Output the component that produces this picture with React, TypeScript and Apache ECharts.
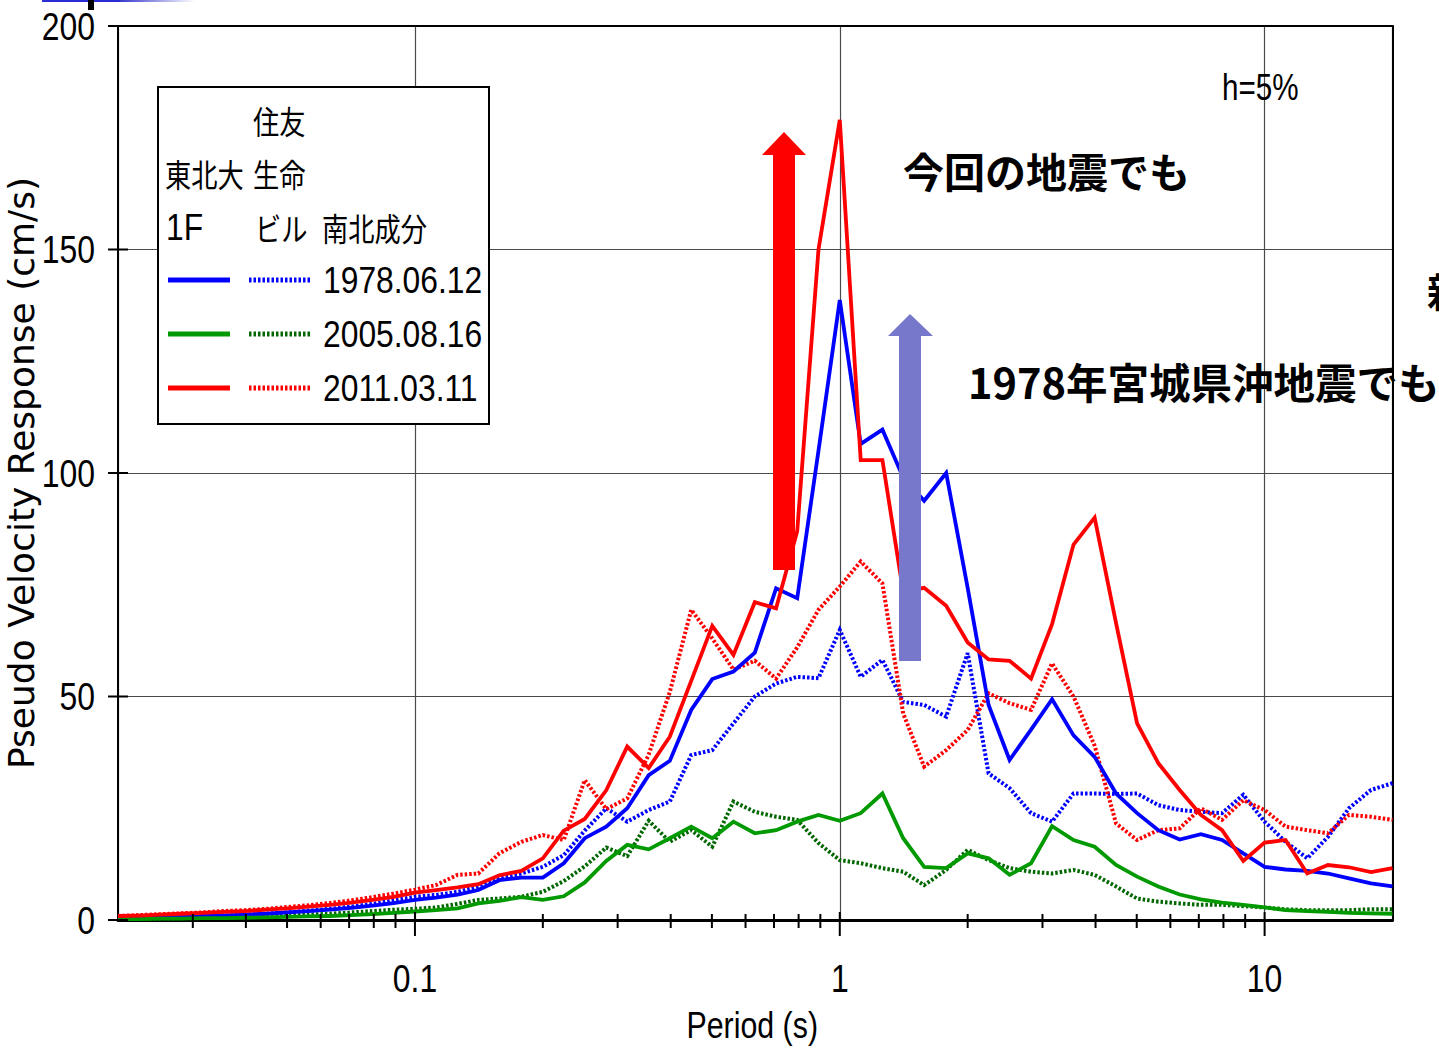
import React, { useEffect, useRef } from "react";
import * as echarts from "echarts";

// Period axis samples (s)
const periods = [
  0.02, 0.0224, 0.0251, 0.0282, 0.0316, 0.0355, 0.0398, 0.0447, 0.0501, 0.0562,
  0.0631, 0.0708, 0.0794, 0.0891, 0.1, 0.112, 0.126, 0.141, 0.158, 0.178,
  0.2, 0.224, 0.251, 0.282, 0.316, 0.355, 0.398, 0.447, 0.501, 0.562,
  0.631, 0.708, 0.794, 0.891, 1.0, 1.12, 1.26, 1.41, 1.58, 1.78,
  2.0, 2.24, 2.51, 2.82, 3.16, 3.55, 3.98, 4.47, 5.01, 5.62,
  6.31, 7.08, 7.94, 8.91, 10.0, 11.2, 12.6, 14.1, 15.8, 17.8, 20.0,
];

// 東北大 1F (solid)
const blue1F = [
  0.5, 0.6, 0.7, 0.8, 0.9, 1.0, 1.2, 1.4, 1.7, 2.0, 2.3, 2.7, 3.2, 3.8, 4.5,
  5.0, 5.7, 6.7, 8.9, 9.5, 9.5, 12.7, 18.3, 20.9, 25.0, 32.4,
  35.6, 47.0, 53.9, 55.6, 59.8, 74.2, 72.0, 105.0, 138.7,
  106.5, 109.7, 99.0, 93.8, 100.0, 74.3, 48.1, 35.8, 42.6, 49.4, 41.3,
  36.5, 28.3, 23.9, 20.1, 18.0, 19.2, 17.9, 14.9, 11.9, 11.3, 11.0, 10.4, 9.3, 8.2, 7.5,
];
const green1F = [
  0.2, 0.2, 0.3, 0.3, 0.4, 0.4, 0.5, 0.6, 0.7, 0.8, 0.9, 1.1, 1.3, 1.6, 1.9,
  2.2, 2.6, 3.7, 4.3, 5.1, 4.5, 5.3, 8.4, 13.2, 16.8, 15.8,
  18.3, 20.9, 18.3, 22.0, 19.4, 20.1, 22.0, 23.5, 22.2,
  23.9, 28.3, 18.3, 11.9, 11.6, 14.9, 13.8, 10.1, 12.7, 21.0, 17.9,
  16.4, 12.3, 9.7, 7.5, 5.7, 4.6, 3.9, 3.4, 2.8, 2.2, 2.0, 1.8, 1.6, 1.5, 1.4,
];
const red1F = [
  0.9, 1.0, 1.2, 1.4, 1.6, 1.8, 2.0, 2.3, 2.6, 3.0, 3.4, 3.9, 4.5, 5.2, 6.1,
  6.7, 7.3, 8.0, 10.0, 11.0, 13.8, 20.0, 22.6, 29.0, 38.8, 34.0,
  41.0, 53.5, 65.8, 59.3, 71.1, 69.7, 87.0, 150.0, 179.0,
  102.9, 102.9, 73.4, 74.3, 70.3, 62.1, 58.3, 58.0, 54.0, 66.2, 84.0,
  90.0, 66.4, 44.0, 35.1, 29.1, 23.5, 20.1, 13.2, 17.3, 17.9, 10.4, 12.3, 11.8, 10.7, 11.6,
];

// 住友生命ビル 南北成分 (dotted)
const blueBldg = [
  0.4, 0.5, 0.6, 0.7, 0.9, 1.0, 1.2, 1.4, 1.7, 2.1, 2.5, 3.0, 3.6, 4.4, 5.2,
  5.6, 6.3, 7.5, 9.3, 10.4, 11.9, 14.5, 20.0, 25.0, 22.0, 24.6,
  26.5, 36.9, 38.0, 44.0, 50.0, 52.9, 54.4, 54.1, 64.9,
  54.4, 58.2, 48.8, 48.1, 45.5, 59.7, 32.8, 29.5, 23.9, 22.0, 28.3,
  28.3, 28.2, 28.3, 25.7, 24.6, 24.2, 23.9, 28.0, 22.0, 17.5, 13.8, 18.6, 25.0, 29.1, 30.6,
];
const greenBldg = [
  0.2, 0.3, 0.3, 0.4, 0.5, 0.6, 0.7, 0.8, 1.0, 1.2, 1.4, 1.7, 2.0, 2.3, 2.5,
  2.8, 3.6, 4.5, 4.8, 5.2, 6.3, 8.7, 12.0, 16.2, 14.3, 22.2,
  17.5, 20.1, 16.4, 26.5, 24.2, 23.1, 22.4, 17.2, 13.4,
  12.7, 11.6, 10.8, 7.8, 11.2, 15.7, 13.4, 11.6, 10.8, 10.4, 11.2,
  10.1, 7.5, 4.8, 4.1, 3.7, 3.4, 3.4, 3.1, 2.8, 2.4, 2.2, 2.2, 2.2, 2.4, 2.4,
];
const redBldg = [
  0.9, 1.1, 1.3, 1.5, 1.7, 2.0, 2.2, 2.5, 2.9, 3.3, 3.8, 4.4, 5.1, 5.9, 6.8,
  7.8, 10.1, 10.4, 14.9, 17.5, 19.0, 17.9, 31.3, 24.8, 27.2, 37.0,
  51.0, 69.4, 63.0, 56.0, 58.0, 54.0, 61.0, 69.4, 74.6,
  80.2, 75.3, 46.2, 34.3, 38.0, 42.5, 50.7, 48.5, 47.0, 57.4, 50.0,
  39.0, 21.6, 17.9, 20.1, 20.5, 25.0, 22.4, 26.8, 24.6, 20.9, 20.1, 19.4, 23.5, 23.1, 22.4,
];

const eventLabels = ["1978.06.12", "2005.08.16", "2011.03.11"];
const colors = ["#0000ff", "#009900", "#ff0000"];
const dottedColors = ["#0000ff", "#006600", "#ff0000"];

const xMin = 0.02;
const xMax = 20;
const yTicks = [0, 50, 100, 150, 200];
const yTickLabels = ["0", "50", "100", "150", "200"];
const xMajorTicks = [0.1, 1, 10];
const xTickLabels = ["0.1", "1", "10"];
const xMinorTicks = [
  0.03, 0.04, 0.05, 0.06, 0.07, 0.08, 0.09,
  0.2, 0.3, 0.4, 0.5, 0.6, 0.7, 0.8, 0.9,
  2, 3, 4, 5, 6, 7, 8, 9,
];
const xTitle = "Period (s)";
const yTitle = "Pseudo Velocity Response (cm/s)";

const LATIN = '"Liberation Sans", Arial, sans-serif';
const CJK = '"Noto Sans CJK JP", sans-serif';

function App() {
  const ref = useRef<HTMLDivElement>(null);
  useEffect(() => {
    if (!ref.current) return;
    const chart = echarts.init(ref.current, null, { renderer: "svg" });

    const lineSeries = (name: string, vals: number[], color: string, dotted: boolean) => ({
      name,
      type: "line",
      data: periods.map((p, i) => [p, vals[i]]),
      showSymbol: false,
      symbol: "none",
      silent: true,
      lineStyle: {
        color,
        width: dotted ? 4 : 3.8,
        type: dotted ? [2.5, 2] : "solid",
        cap: "butt",
        join: "miter",
      },
      z: 3,
    });

    const tickData: number[][] = [
      ...yTicks.map((v) => [xMin, v, 0]),
      ...xMajorTicks.map((v) => [v, 0, 1]),
      ...xMinorTicks.map((v) => [v, 0, 2]),
    ];

    const baseOption: any = {
      animation: false,
      backgroundColor: "#fff",
      grid: {
        left: 118,
        top: 26,
        right: 46.5,
        bottom: 130,
        containLabel: false,
        outerBoundsMode: "none",
      },
      xAxis: [
        {
          type: "log",
          logBase: 10,
          min: xMin,
          max: xMax,
          position: "bottom",
          axisLine: { show: true, onZero: false, lineStyle: { color: "#000", width: 3 } },
          axisTick: { show: false },
          axisLabel: { show: false },
          splitLine: { show: true, lineStyle: { color: "#4a4a4a", width: 1.2 } },
        },
        {
          type: "log",
          logBase: 10,
          min: xMin,
          max: xMax,
          position: "top",
          axisLine: { show: true, onZero: false, lineStyle: { color: "#000", width: 2 } },
          axisTick: { show: false },
          axisLabel: { show: false },
          splitLine: { show: false },
        },
      ],
      yAxis: [
        {
          type: "value",
          min: 0,
          max: 200,
          interval: 50,
          axisLine: { show: true, onZero: false, lineStyle: { color: "#000", width: 2 } },
          axisTick: { show: false },
          axisLabel: { show: false },
          splitLine: { show: true, lineStyle: { color: "#4a4a4a", width: 1.2 } },
          name: yTitle,
          nameLocation: "middle",
          nameRotate: 90,
          nameGap: 79,
          nameMoveOverlap: false,
          nameTextStyle: { fontFamily: '"DejaVu Sans", sans-serif', fontSize: 36, color: "#000" },
        },
        {
          type: "value",
          min: 0,
          max: 200,
          interval: 50,
          position: "right",
          axisLine: { show: true, onZero: false, lineStyle: { color: "#000", width: 2 } },
          axisTick: { show: false },
          axisLabel: { show: false },
          splitLine: { show: false },
        },
      ],
      series: [
        lineSeries("1978.06.12 住友生命ビル", blueBldg, dottedColors[0], true),
        lineSeries("2005.08.16 住友生命ビル", greenBldg, dottedColors[1], true),
        lineSeries("2011.03.11 住友生命ビル", redBldg, dottedColors[2], true),
        lineSeries("1978.06.12 東北大1F", blue1F, colors[0], false),
        lineSeries("2005.08.16 東北大1F", green1F, colors[1], false),
        lineSeries("2011.03.11 東北大1F", red1F, colors[2], false),
        {
          type: "custom",
          silent: true,
          clip: false,
          z: 6,
          data: tickData,
          renderItem: (_params: any, api: any) => {
            const kind = api.value(2);
            const pt = api.coord([api.value(0), api.value(1)]);
            let shape;
            if (kind === 0) shape = { x1: pt[0] - 10, y1: pt[1], x2: pt[0] + 10, y2: pt[1] };
            else if (kind === 1) shape = { x1: pt[0], y1: pt[1] - 8, x2: pt[0], y2: pt[1] + 16 };
            else shape = { x1: pt[0], y1: pt[1] - 6, x2: pt[0], y2: pt[1] + 8 };
            return { type: "line", shape, style: { stroke: "#000", lineWidth: 2 } };
          },
        },
      ],
    };
    chart.setOption(baseOption);

    const toPx = (x: number, y: number) =>
      chart.convertToPixel({ xAxisIndex: 0, yAxisIndex: 0 }, [x, y]) as number[];

    const narrowText = (
      text: string,
      x: number,
      y: number,
      size: number,
      align: string,
      sx: number,
      z = 101
    ) => ({
      type: "text",
      x,
      y,
      scaleX: sx,
      style: {
        text,
        fill: "#000",
        fontSize: size,
        fontFamily: LATIN,
        textAlign: align,
        align,
        textVerticalAlign: "middle",
        verticalAlign: "middle",
      },
      z,
    });

    const graphic: any[] = [];
    // tick labels placed through the axes' scales
    yTicks.forEach((v, i) => {
      const p = toPx(xMin, v);
      graphic.push(narrowText(yTickLabels[i], p[0] - 23, p[1], 38, "right", 0.84, 50));
    });
    xMajorTicks.forEach((v, i) => {
      const p = toPx(v, 0);
      graphic.push(narrowText(xTickLabels[i], p[0], p[1] + 58, 38, "center", 0.84, 50));
    });
    {
      const pl = toPx(xMin, 0);
      const pr = toPx(xMax, 0);
      graphic.push(narrowText(xTitle, (pl[0] + pr[0]) / 2 - 3, pl[1] + 105, 37, "center", 0.82, 50));
    }

    // top-left slide artifacts
    graphic.push(
      { type: "rect", shape: { x: 42, y: 0, width: 80, height: 2 }, style: { fill: "#2b2bd6" }, z: 100 },
      {
        type: "rect",
        shape: { x: 120, y: 0, width: 75, height: 2 },
        style: {
          fill: new echarts.graphic.LinearGradient(0, 0, 1, 0, [
            { offset: 0, color: "#3a3acc" },
            { offset: 1, color: "#ffffff" },
          ]),
        },
        z: 100,
      },
      { type: "rect", shape: { x: 88, y: 0, width: 6, height: 10 }, style: { fill: "#000" }, z: 100 },
      {
        type: "rect",
        shape: { x: 158, y: 87, width: 331, height: 337 },
        style: { fill: "#fff", stroke: "#000", lineWidth: 2 },
        z: 100,
      }
    );

    const cjkText = (text: string, x: number, y: number) => ({
      type: "text",
      x,
      y,
      scaleX: 0.82,
      style: {
        text,
        fill: "#000",
        fontSize: 32,
        fontFamily: CJK,
        textAlign: "left",
        textVerticalAlign: "middle",
        verticalAlign: "middle",
      },
      z: 101,
    });
    graphic.push(cjkText("住友", 253, 120));
    graphic.push(cjkText("東北大", 165, 173));
    graphic.push(cjkText("生命", 253, 173));
    graphic.push(narrowText("1F", 166, 227, 37, "left", 0.86));
    graphic.push(cjkText("ビル", 255, 227));
    graphic.push(cjkText("南北成分", 322, 227));
    const rowY = [280, 334, 388];
    [0, 1, 2].forEach((i) => {
      graphic.push({
        type: "line",
        shape: { x1: 168, y1: rowY[i], x2: 230, y2: rowY[i] },
        style: { stroke: colors[i], lineWidth: 5 },
        z: 101,
      });
      graphic.push({
        type: "line",
        shape: { x1: 249, y1: rowY[i], x2: 311, y2: rowY[i] },
        style: { stroke: dottedColors[i], lineWidth: 5, lineDash: [2.5, 2] },
        z: 101,
      });
      graphic.push(narrowText(eventLabels[i], 323, rowY[i], 37, "left", 0.86));
    });

    // arrows
    graphic.push({
      type: "polygon",
      shape: {
        points: [[773, 570], [795, 570], [795, 155], [806, 155], [784, 132], [762, 155], [773, 155]],
      },
      style: { fill: "#ff0000" },
      z: 102,
    });
    graphic.push({
      type: "polygon",
      shape: {
        points: [[899, 661], [921, 661], [921, 336], [933, 336], [910, 314], [888, 336], [899, 336]],
      },
      style: { fill: "#7777cc" },
      z: 102,
    });

    const boldText = (text: string, x: number, y: number, size: number) => ({
      type: "text",
      x,
      y,
      style: {
        text,
        fill: "#000",
        fontSize: size,
        fontWeight: "bold",
        fontFamily: CJK,
        textAlign: "left",
        textVerticalAlign: "middle",
        verticalAlign: "middle",
      },
      z: 103,
    });
    graphic.push(boldText("今回の地震でも", 903, 170, 41));
    graphic.push(boldText("1978年宮城県沖地震でも", 968, 381, 41.5));
    graphic.push(boldText("新", 1427, 290, 40));
    graphic.push(narrowText("h=5%", 1222, 87, 37, "left", 0.8, 103));

    chart.setOption({ graphic });
    return () => chart.dispose();
  }, []);

  return (
    <div
      ref={ref}
      style={{ position: "absolute", left: 0, top: 0, width: 1439, height: 1050, background: "#fff" }}
    />
  );
}

export default App;
